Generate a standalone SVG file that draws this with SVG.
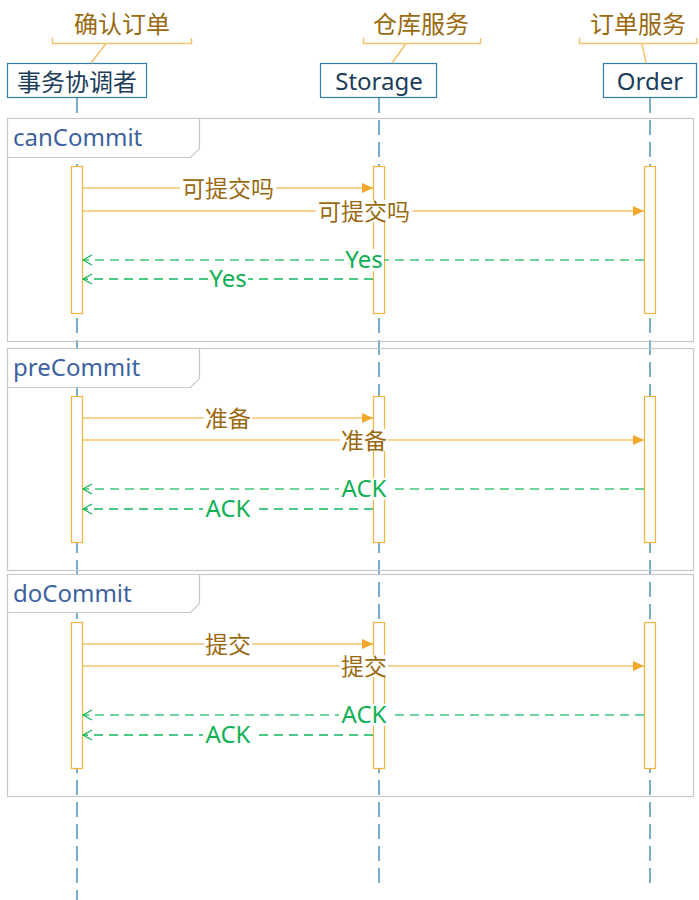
<svg xmlns="http://www.w3.org/2000/svg" width="699" height="900" viewBox="0 0 699 900">
<style>
.bg{fill:#fff}
.head{fill:#fff;stroke:#2f80a8;stroke-width:1.2}
.headt{font-family:"Noto Sans","Noto Sans CJK SC",sans-serif;font-size:24px;fill:#1c3d5a;text-anchor:middle;dominant-baseline:central}
.note{font-family:"Noto Sans CJK SC","Noto Sans",sans-serif;font-size:24px;fill:#9a6a10;text-anchor:middle;dominant-baseline:central}
.brk{fill:none;stroke:#f5c26b;stroke-width:1.5}
.life{stroke:#4a94bd;stroke-width:1.5;stroke-dasharray:15 7;fill:none}
.frame{fill:none;stroke:#c8c8c8;stroke-width:1.2}
.tab{fill:#fff;stroke:#c8c8c8;stroke-width:1.2}
.ft{font-family:"Noto Sans",sans-serif;font-size:24px;fill:#3d62a0;dominant-baseline:central}
.act{fill:#fff;stroke:#f5b33d;stroke-width:1.2}
.msg{stroke:#f2a62a;stroke-width:1.2;fill:none}
.ret{stroke:#0fb55a;stroke-width:1.3;stroke-dasharray:9 6;fill:none}
.mt{font-family:"Noto Sans CJK SC","Noto Sans",sans-serif;font-size:23px;fill:#9a6a10;text-anchor:middle;dominant-baseline:central}
.rt{font-family:"Noto Sans","Noto Sans CJK SC",sans-serif;font-size:24px;fill:#10b055;text-anchor:middle;dominant-baseline:central}
</style>
<defs>
<marker id="fa" markerWidth="12" markerHeight="10" refX="11" refY="5" orient="auto" markerUnits="userSpaceOnUse"><path d="M0,0 L11,5 L0,10 Z" fill="#f2a62a"/></marker>
<marker id="oa" markerWidth="12" markerHeight="12" refX="10" refY="6" orient="auto" markerUnits="userSpaceOnUse"><path d="M1,1 L10,6 L1,11" fill="none" stroke="#0fb55a" stroke-width="1.2"/></marker>
</defs>
<rect class="bg" x="0" y="0" width="699" height="900"/>

<g id="lifelines">
<line class="life" x1="77" y1="98" x2="77" y2="900"/>
<line class="life" x1="379" y1="98" x2="379" y2="890"/>
<line class="life" x1="650" y1="98" x2="650" y2="890"/>
</g>

<g id="frame-canCommit">
<rect class="frame" x="7.5" y="118.5" width="686" height="223"/>
<path class="tab" d="M7.5,118.5 H199.5 V148.5 L190.5,157.5 H7.5 Z"/>
<text class="ft" x="13" y="136">canCommit</text>
</g>
<g id="frame-preCommit">
<rect class="frame" x="7.5" y="348.5" width="686" height="222"/>
<path class="tab" d="M7.5,348.5 H199.5 V378.5 L190.5,387.5 H7.5 Z"/>
<text class="ft" x="13" y="366">preCommit</text>
</g>
<g id="frame-doCommit">
<rect class="frame" x="7.5" y="574.5" width="686" height="222"/>
<path class="tab" d="M7.5,574.5 H199.5 V603.5 L190.5,612.5 H7.5 Z"/>
<text class="ft" x="13" y="592">doCommit</text>
</g>

<g id="head-coordinator">
<rect class="head" x="7.5" y="63.5" width="139" height="34"/>
<text class="headt" x="77" y="80" style="font-family:'Noto Sans CJK SC',sans-serif">事务协调者</text>
</g>
<g id="head-storage">
<rect class="head" x="320.5" y="63.5" width="116" height="34"/>
<text class="headt" x="379" y="80">Storage</text>
</g>
<g id="head-order">
<rect class="head" x="603.5" y="63.5" width="93" height="34"/>
<text class="headt" x="650" y="80">Order</text>
</g>

<g id="note-coordinator">
<text class="note" x="122" y="22">确认订单</text>
<path class="brk" d="M52.5,38 V43.5 H191.5 V38"/>
<line class="brk" x1="106" y1="43.5" x2="91" y2="63"/>
</g>
<g id="note-storage">
<text class="note" x="421" y="22">仓库服务</text>
<path class="brk" d="M363.5,38 V43.5 H480.5 V38"/>
<line class="brk" x1="406" y1="43.5" x2="392" y2="63"/>
</g>
<g id="note-order">
<text class="note" x="638" y="22">订单服务</text>
<path class="brk" d="M579.5,38 V43.5 H697 V38"/>
<line class="brk" x1="642" y1="43.5" x2="646" y2="63"/>
</g>

<g id="activations">
<rect class="act" x="71.5" y="166.5" width="11" height="147"/>
<rect class="act" x="373.5" y="166.5" width="11" height="147"/>
<rect class="act" x="644.5" y="166.5" width="11" height="147"/>
<rect class="act" x="71.5" y="396.5" width="11" height="146"/>
<rect class="act" x="373.5" y="396.5" width="11" height="146"/>
<rect class="act" x="644.5" y="396.5" width="11" height="146"/>
<rect class="act" x="71.5" y="622.5" width="11" height="146"/>
<rect class="act" x="373.5" y="622.5" width="11" height="146"/>
<rect class="act" x="644.5" y="622.5" width="11" height="146"/>
</g>

<g id="connectors">
<line class="msg" x1="83" y1="188" x2="373" y2="188" marker-end="url(#fa)"/>
<line class="msg" x1="83" y1="211" x2="644" y2="211" marker-end="url(#fa)"/>
<line class="ret" x1="644" y1="260" x2="83" y2="260" marker-end="url(#oa)" stroke-opacity="0.8"/>
<line class="ret" x1="373" y1="279" x2="83" y2="279" marker-end="url(#oa)"/>

<line class="msg" x1="83" y1="418" x2="373" y2="418" marker-end="url(#fa)"/>
<line class="msg" x1="83" y1="440" x2="644" y2="440" marker-end="url(#fa)"/>
<line class="ret" x1="644" y1="489" x2="83" y2="489" marker-end="url(#oa)" stroke-opacity="0.8"/>
<line class="ret" x1="373" y1="509" x2="83" y2="509" marker-end="url(#oa)"/>

<line class="msg" x1="83" y1="644" x2="373" y2="644" marker-end="url(#fa)"/>
<line class="msg" x1="83" y1="666" x2="644" y2="666" marker-end="url(#fa)"/>
<line class="ret" x1="644" y1="715" x2="83" y2="715" marker-end="url(#oa)" stroke-opacity="0.8"/>
<line class="ret" x1="373" y1="735" x2="83" y2="735" marker-end="url(#oa)"/>
</g>

<g id="labels">
<rect class="bg" x="180" y="177" width="96" height="22"/><text class="mt" x="228" y="187">可提交吗</text>
<rect class="bg" x="316" y="200" width="96" height="22"/><text class="mt" x="364" y="210">可提交吗</text>
<rect class="bg" x="344" y="249" width="40" height="22"/><text class="rt" x="364" y="258">Yes</text>
<rect class="bg" x="208" y="268" width="40" height="22"/><text class="rt" x="228" y="277">Yes</text>

<rect class="bg" x="204" y="407" width="48" height="22"/><text class="mt" x="228" y="417">准备</text>
<rect class="bg" x="340" y="429" width="48" height="22"/><text class="mt" x="364" y="439">准备</text>
<rect class="bg" x="339" y="478" width="50" height="22"/><text class="rt" x="364" y="487">ACK</text>
<rect class="bg" x="203" y="498" width="50" height="22"/><text class="rt" x="228" y="507">ACK</text>

<rect class="bg" x="204" y="633" width="48" height="22"/><text class="mt" x="228" y="643">提交</text>
<rect class="bg" x="340" y="655" width="48" height="22"/><text class="mt" x="364" y="665">提交</text>
<rect class="bg" x="339" y="704" width="50" height="22"/><text class="rt" x="364" y="713">ACK</text>
<rect class="bg" x="203" y="724" width="50" height="22"/><text class="rt" x="228" y="733">ACK</text>
</g>
</svg>
